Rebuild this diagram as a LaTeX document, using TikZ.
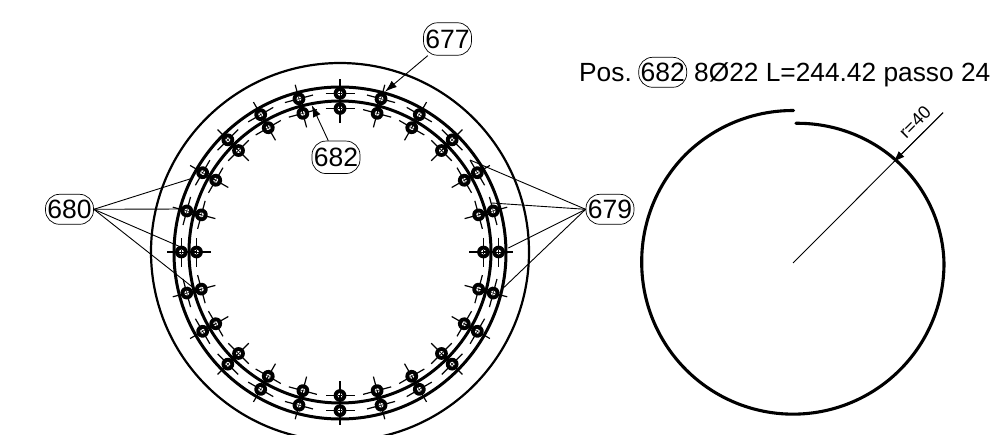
\documentclass[tikz,border=0pt]{standalone}
\usepackage{fontspec}
\setmainfont{Liberation Sans}
\usetikzlibrary{arrows.meta}
\tikzset{
  x=1pt,y=-1pt,
  declare function={
    uu(\t)=(\t-270)/90;
    rr(\t)=(\t<45?152.5+0.5*\t/45:(\t<90?153-1.2*(\t-45)/45:(\t<270?151.8-1.3*(\t-90)/180:150.5-10.8*0.5*(uu(\t)+3*uu(\t)^2-2*uu(\t)^3))));
  },
  pill/.style={draw,line width=0.7pt,rounded corners=14pt,minimum width=48pt,minimum height=30pt,inner sep=0pt,font=\fontsize{26.5}{26.5}\selectfont},
  tallpill/.style={pill,minimum height=32.5pt},
  maintext/.style={anchor=base west,inner sep=0pt,font=\fontsize{26.3}{27}\selectfont},
  leader/.style={line width=0.9pt},
  tipped/.style={line width=0.9pt,-{Latex[length=12pt,width=8pt]}},
  ring/.style={line width=3pt},
  shell/.style={line width=2.2pt},
  arm/.style={line width=1.2pt},
}
\begin{document}
\begin{tikzpicture}
\path[use as bounding box] (0,0) rectangle (991,434);
\clip (0,0) rectangle (991,434);
\fill[white] (0,0) rectangle (991,434);
% left section
\draw[shell] (340,252) circle[radius=189pt];
\draw[ring] (340,253) circle[radius=166pt];
\draw[ring] (340,252) circle[radius=151pt];
\foreach \a in {0,15,...,345}{
  \begin{scope}[shift={(340,252)},rotate=\a]
    \foreach \r in {143.5,158.6}{
      \draw[arm] (\r-14.5,0) -- (\r+14.5,0) (\r,-14.5) -- (\r,14.5);
      \fill[black] (\r,0) circle[radius=6.4pt];
      \fill[white] (\r,0) circle[radius=2.4pt];
      \draw[line width=0.5pt] (\r-2.4,0) -- (\r+2.4,0) (\r,-2.4) -- (\r,2.4);
    }
  \end{scope}
}
% labels
\node[tallpill] (n677) at (447.5,39) {677};
\node[tallpill] (n682) at (336,157.3) {682};
\node[pill] (n680) at (69.5,209.3) {680};
\node[pill] (n679) at (610,209.3) {679};
\coordinate (t677) at (385,91.7);
\coordinate (t682) at (311.7,105);
\coordinate (a1) at (193,178);
\coordinate (a2) at (183,209);
\coordinate (a3) at (180,246.7);
\coordinate (a4) at (192,286.7);
\coordinate (b1) at (470,160);
\coordinate (b2) at (491.7,203);
\coordinate (b3) at (508.3,248);
\coordinate (b4) at (503.3,288);
\draw[tipped] (n677) -- (t677);
\draw[tipped] (n682) -- (t682);
\foreach \c in {a1,a2,a3,a4} \draw[leader] (n680.east) -- (\c);
\foreach \c in {b1,b2,b3,b4} \draw[leader] (n679.west) -- (\c);
% title
\node[maintext] (tpos) at (579,81.7) {Pos.};
\node[pill] (n682b) at (662.7,72.3) {682};
\node[maintext] (tspec) at (694,81.7) {8Ø22 L=244.42 passo 24};
% spiral
\draw[line width=3.1pt,line cap=round] plot[smooth,domain=0:359,samples=150,variable=\t]
  ({793.5-rr(\t)*sin(\t)},{263-rr(\t)*cos(\t)});
% radius
\coordinate (rc) at (793,263);
\coordinate (re) at (943,112.7);
\coordinate (rt) at (893,162.5);
\draw[leader] (rc) -- (re);
\draw[tipped] (re) -- (rt);
\node[rotate=45,inner sep=0pt,font=\fontsize{18}{18}\selectfont] (rl) at (915,122) {r=40};
\end{tikzpicture}
\end{document}
